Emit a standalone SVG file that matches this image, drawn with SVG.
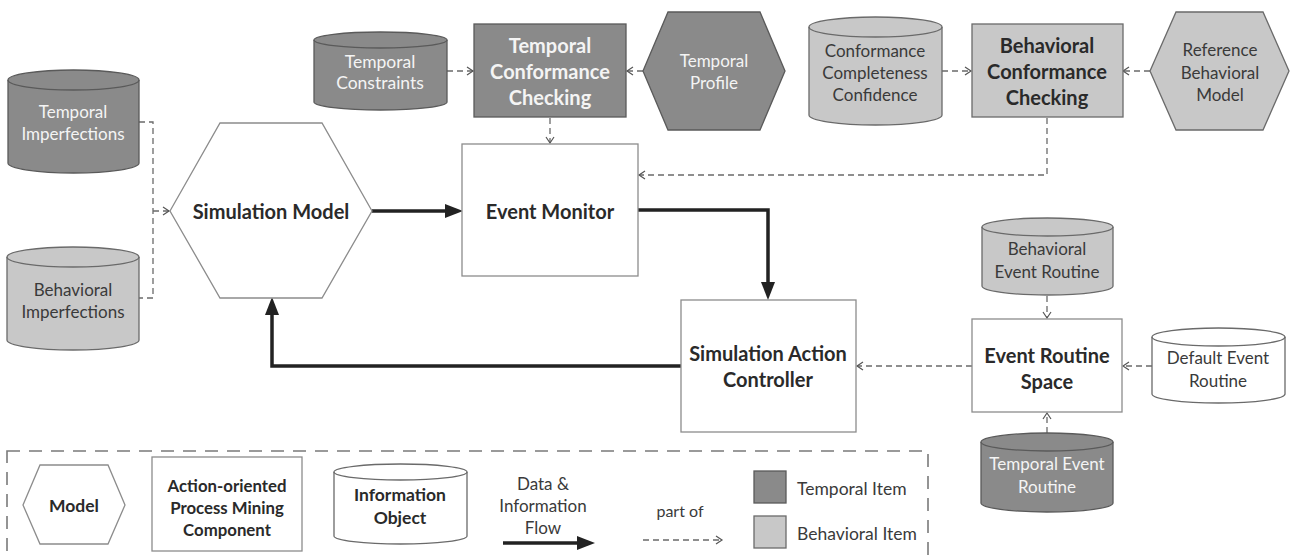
<svg xmlns="http://www.w3.org/2000/svg" width="1291" height="559" viewBox="0 0 1291 559">
  <style>
    .bg { fill: #ffffff; }
    .t { font-family: Lato, "Open Sans", "Liberation Sans", sans-serif; font-size: 15px; text-anchor: middle; dominant-baseline: central; fill: #3a3a3a; }
    .b { font-weight: bold; font-size: 20px; fill: #2a2a2a; }
    .w { fill: #f4f4f4; }
    .l { text-anchor: start; }
    .s16 { font-size: 16px; }
    .s17 { font-size: 17px; }
    .s175 { font-size: 17.5px; }
    .dark { fill: #8a8a8a; stroke: #5a5a5a; stroke-width: 1.3; }
    .light { fill: #c8c8c8; stroke: #6a6a6a; stroke-width: 1.3; }
    .plain { fill: #ffffff; stroke: #8c8c8c; stroke-width: 1.3; }
    .plaincyl { fill: #ffffff; stroke: #6a6a6a; stroke-width: 1.3; }
    .lid { fill: none; stroke-width: 1.3; }
    .dash { fill: none; stroke: #6a6a6a; stroke-width: 1.3; stroke-dasharray: 6 4; }
    .thick { fill: none; stroke: #222222; stroke-width: 3.5; }
    .frame { fill: none; stroke: #7a7a7a; stroke-width: 1.6; stroke-dasharray: 13 9; }
  </style>
  <defs>
    <marker id="open" markerUnits="userSpaceOnUse" markerWidth="10" markerHeight="10" viewBox="0 0 8 10" refX="7" refY="5" orient="auto">
      <path d="M1,1 L7,5 L1,9" fill="none" stroke="#555" stroke-width="1.2"/>
    </marker>
    <marker id="solid" markerUnits="userSpaceOnUse" markerWidth="18" markerHeight="14" viewBox="0 0 18 14" refX="8" refY="7" orient="auto">
      <path d="M0,0 L18,7 L0,14 Z" fill="#222"/>
    </marker>
  </defs>
  <rect class="bg" x="0" y="0" width="1291" height="559"/>

  <!-- connectors -->
  <g id="connectors">
    <path class="dash" d="M139 122 H153 V298 H139"/>
    <path class="dash" d="M153 211 H169" marker-end="url(#open)"/>
    <path class="thick" d="M372 211 H453" marker-end="url(#solid)"/>
    <path class="thick" d="M638 210 H768 V290" marker-end="url(#solid)"/>
    <path class="thick" d="M681 366 H272 V307" marker-end="url(#solid)"/>
    <path class="dash" d="M447 71 H473" marker-end="url(#open)"/>
    <path class="dash" d="M643 71 H627" marker-end="url(#open)"/>
    <path class="dash" d="M550 118 V143" marker-end="url(#open)"/>
    <path class="dash" d="M942 71 H971" marker-end="url(#open)"/>
    <path class="dash" d="M1150 71 H1123" marker-end="url(#open)"/>
    <path class="dash" d="M1047 118 V175 H639" marker-end="url(#open)"/>
    <path class="dash" d="M1047 296 V318" marker-end="url(#open)"/>
    <path class="dash" d="M1152 366 H1123" marker-end="url(#open)"/>
    <path class="dash" d="M1047 433 V413" marker-end="url(#open)"/>
    <path class="dash" d="M972 366 H857" marker-end="url(#open)"/>
  </g>

  <!-- information objects (cylinders) -->
  <g id="temporal-imperfections">
    <path class="dark" d="M8 80 A65.5 10 0 0 1 139 80 V163 A65.5 10 0 0 1 8 163 Z"/>
    <path class="lid" stroke="#5a5a5a" d="M8 80 A65.5 10 0 0 0 139 80"/>
    <text class="t w s17" x="73" y="111">Temporal</text>
    <text class="t w s17" x="73" y="133">Imperfections</text>
  </g>
  <g id="behavioral-imperfections">
    <path class="light" d="M7 257 A66 10 0 0 1 139 257 V340 A66 10 0 0 1 7 340 Z"/>
    <path class="lid" stroke="#6a6a6a" d="M7 257 A66 10 0 0 0 139 257"/>
    <text class="t s17" x="73" y="289">Behavioral</text>
    <text class="t s17" x="73" y="311">Imperfections</text>
  </g>
  <g id="temporal-constraints">
    <path class="dark" d="M314 40 A66.5 8 0 0 1 447 40 V102 A66.5 8 0 0 1 314 102 Z"/>
    <path class="lid" stroke="#5a5a5a" d="M314 40 A66.5 8 0 0 0 447 40"/>
    <text class="t w s175" x="380" y="61">Temporal</text>
    <text class="t w s175" x="380" y="82">Constraints</text>
  </g>
  <g id="conformance-completeness-confidence">
    <path class="light" d="M809 27 A66.5 10 0 0 1 942 27 V115 A66.5 10 0 0 1 809 115 Z"/>
    <path class="lid" stroke="#6a6a6a" d="M809 27 A66.5 10 0 0 0 942 27"/>
    <text class="t s17" x="875" y="50">Conformance</text>
    <text class="t s17" x="875" y="72">Completeness</text>
    <text class="t s17" x="875" y="94">Confidence</text>
  </g>
  <g id="behavioral-event-routine">
    <path class="light" d="M982 227 A65.5 9 0 0 1 1113 227 V286 A65.5 9 0 0 1 982 286 Z"/>
    <path class="lid" stroke="#6a6a6a" d="M982 227 A65.5 9 0 0 0 1113 227"/>
    <text class="t s17" x="1047" y="248">Behavioral</text>
    <text class="t s17" x="1047" y="271">Event Routine</text>
  </g>
  <g id="default-event-routine">
    <path class="plaincyl" d="M1152 337 A66.5 9 0 0 1 1285 337 V394 A66.5 9 0 0 1 1152 394 Z"/>
    <path class="lid" stroke="#6a6a6a" d="M1152 337 A66.5 9 0 0 0 1285 337"/>
    <text class="t s17" x="1218" y="357">Default Event</text>
    <text class="t s17" x="1218" y="380">Routine</text>
  </g>
  <g id="temporal-event-routine">
    <path class="dark" d="M981 442 A66 9 0 0 1 1113 442 V503 A66 9 0 0 1 981 503 Z"/>
    <path class="lid" stroke="#5a5a5a" d="M981 442 A66 9 0 0 0 1113 442"/>
    <text class="t w s17" x="1047" y="463">Temporal Event</text>
    <text class="t w s17" x="1047" y="486">Routine</text>
  </g>

  <!-- models (hexagons) -->
  <g id="simulation-model">
    <polygon class="plain" points="170,211 220,123 322,123 372,211 322,298 220,298"/>
    <text class="t b" x="271" y="211">Simulation Model</text>
  </g>
  <g id="temporal-profile">
    <polygon class="dark" points="643,71 668,12 760,12 785,71 760,130 668,130"/>
    <text class="t w s17" x="714" y="60">Temporal</text>
    <text class="t w s17" x="714" y="82">Profile</text>
  </g>
  <g id="reference-behavioral-model">
    <polygon class="light" points="1150,71 1176,12 1263,12 1289,71 1263,130 1176,130"/>
    <text class="t s17" x="1220" y="49">Reference</text>
    <text class="t s17" x="1220" y="72">Behavioral</text>
    <text class="t s17" x="1220" y="94">Model</text>
  </g>

  <!-- process mining components (boxes) -->
  <g id="temporal-conformance-checking">
    <rect class="dark" x="474" y="24" width="152" height="93"/>
    <text class="t b w" x="550" y="45">Temporal</text>
    <text class="t b w" x="550" y="71">Conformance</text>
    <text class="t b w" x="550" y="97">Checking</text>
  </g>
  <g id="behavioral-conformance-checking">
    <rect class="light" x="972" y="24" width="151" height="93"/>
    <text class="t b" x="1047" y="45">Behavioral</text>
    <text class="t b" x="1047" y="71">Conformance</text>
    <text class="t b" x="1047" y="97">Checking</text>
  </g>
  <g id="event-monitor">
    <rect class="plain" x="462" y="144" width="176" height="132"/>
    <text class="t b" x="550" y="211">Event Monitor</text>
  </g>
  <g id="simulation-action-controller">
    <rect class="plain" x="681" y="300" width="175" height="132"/>
    <text class="t b" x="768" y="353">Simulation Action</text>
    <text class="t b" x="768" y="379">Controller</text>
  </g>
  <g id="event-routine-space">
    <rect class="plain" x="972" y="319" width="150" height="93"/>
    <text class="t b" x="1047" y="355">Event Routine</text>
    <text class="t b" x="1047" y="381">Space</text>
  </g>

  <!-- legend -->
  <g id="legend">
    <rect class="frame" x="7" y="451" width="921" height="130"/>
    <polygon class="plain" points="23,505 40,465 108,465 125,505 108,544 40,544"/>
    <text class="t b" x="74" y="505" style="font-size:17.5px">Model</text>
    <rect class="plain" x="152" y="457" width="150" height="94"/>
    <text class="t b" x="227" y="485" style="font-size:16.8px">Action-oriented</text>
    <text class="t b" x="227" y="507" style="font-size:16.8px">Process Mining</text>
    <text class="t b" x="227" y="529" style="font-size:16.8px">Component</text>
    <path class="plaincyl" d="M334 472 A66.5 8 0 0 1 467 472 V536 A66.5 8 0 0 1 334 536 Z"/>
    <path class="lid" stroke="#6a6a6a" d="M334 472 A66.5 8 0 0 0 467 472"/>
    <text class="t b" x="400" y="494" style="font-size:17.5px">Information</text>
    <text class="t b" x="400" y="517" style="font-size:17.5px">Object</text>
    <text class="t s17" x="543" y="483">Data &amp;</text>
    <text class="t s17" x="543" y="505">Information</text>
    <text class="t s17" x="543" y="527">Flow</text>
    <path class="thick" d="M503 543 H585" marker-end="url(#solid)"/>
    <text class="t s16" x="680" y="510">part of</text>
    <path class="dash" d="M643 540 H722" marker-end="url(#open)"/>
    <rect class="dark" x="754" y="471" width="32" height="32"/>
    <text class="t l s175" x="797" y="488">Temporal Item</text>
    <rect class="light" x="754" y="516" width="32" height="32"/>
    <text class="t l s175" x="797" y="533">Behavioral Item</text>
  </g>
</svg>
